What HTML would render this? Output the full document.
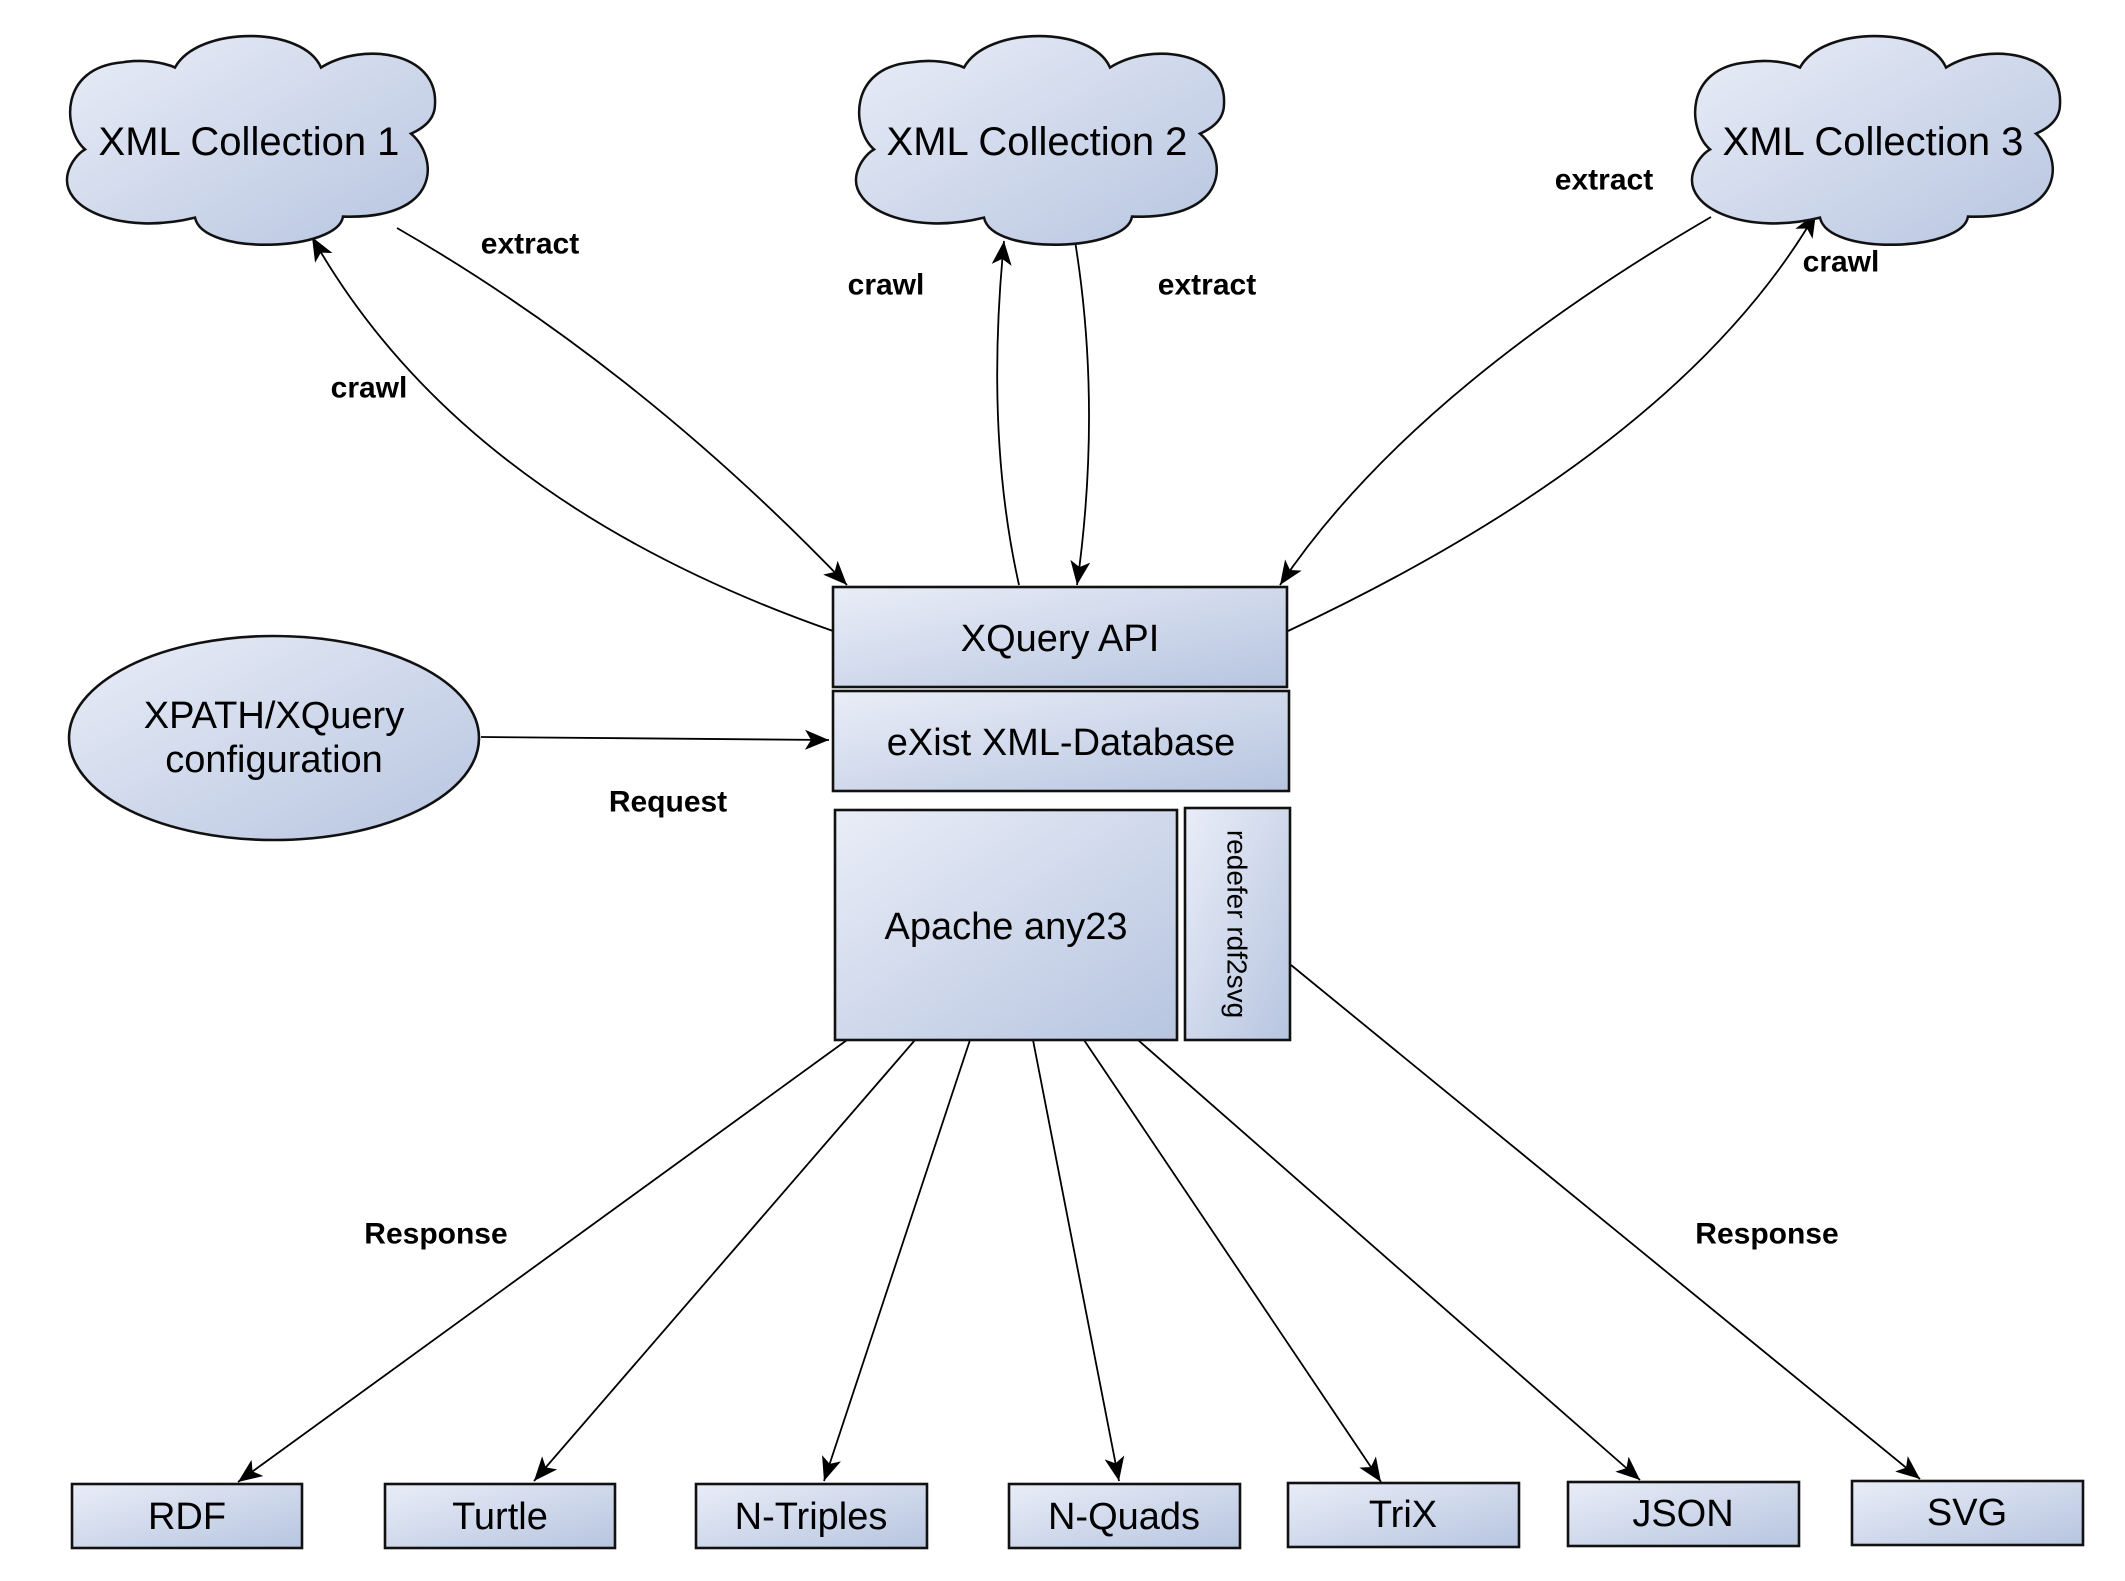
<!DOCTYPE html>
<html><head><meta charset="utf-8"><style>
html,body{margin:0;padding:0;background:#fff}
svg{display:block}
text{font-family:"Liberation Sans",sans-serif}
.n{font-size:38px;text-anchor:middle;dominant-baseline:central}
.cn{font-size:40px;text-anchor:middle;dominant-baseline:central}
.l{font-size:30px;font-weight:bold;text-anchor:middle;dominant-baseline:central}
.c{fill:none;stroke:#000;stroke-width:1.8}
.b{fill:url(#g);stroke:#111;stroke-width:2.6}
</style></head><body>
<svg width="2125" height="1581" viewBox="0 0 2125 1581" xmlns="http://www.w3.org/2000/svg">
<defs>
<linearGradient id="g" x1="0" y1="0" x2="1" y2="1"><stop offset="0" stop-color="#e9edf7"/><stop offset="1" stop-color="#b7c5e0"/></linearGradient>
<marker id="a" markerWidth="26" markerHeight="20" refX="24" refY="10" orient="auto" markerUnits="userSpaceOnUse"><path d="M0,0 L24,10 L0,20 L6,10 Z" fill="#000"/></marker>
<path id="cl" d="M112,30 C135,-10 240,-10 258,30 C300,5 375,15 372,65 C372,80 360,88 348,93 C375,115 380,175 280,172 C275,205 140,210 132,173 C60,190 -5,165 5,130 C8,120 15,112 22,108 C0,90 -5,30 60,25 C80,22 100,25 112,30 Z"/>
</defs>
<path class="c" d="M833,631 Q461,501 312,237" marker-end="url(#a)"/>
<path class="c" d="M397,228 Q637,366 847,585" marker-end="url(#a)"/>
<path class="c" d="M1019,585 Q985,434 1004,241" marker-end="url(#a)"/>
<path class="c" d="M1075,241 Q1102,407 1077,585" marker-end="url(#a)"/>
<path class="c" d="M1711,217 Q1409,393 1280,585" marker-end="url(#a)"/>
<path class="c" d="M1288,631 Q1680,447 1816,213" marker-end="url(#a)"/>
<path class="c" d="M481,737 L829,740" marker-end="url(#a)"/>
<path class="c" d="M847,1040 L238,1482" marker-end="url(#a)"/>
<path class="c" d="M915,1040 L534,1481" marker-end="url(#a)"/>
<path class="c" d="M970,1040 L824,1481" marker-end="url(#a)"/>
<path class="c" d="M1033,1040 L1119,1481" marker-end="url(#a)"/>
<path class="c" d="M1084,1040 L1381,1482" marker-end="url(#a)"/>
<path class="c" d="M1138,1040 L1640,1480" marker-end="url(#a)"/>
<path class="c" d="M1291,965 L1920,1479" marker-end="url(#a)"/>
<g transform="translate(63,36) scale(1,1.05)"><use href="#cl" class="b" style="stroke-width:2.5"/></g>
<g transform="translate(852,36) scale(1,1.05)"><use href="#cl" class="b" style="stroke-width:2.5"/></g>
<g transform="translate(1688,36) scale(1,1.05)"><use href="#cl" class="b" style="stroke-width:2.5"/></g>
<text class="cn" x="249" y="142">XML Collection 1</text>
<text class="cn" x="1037" y="142">XML Collection 2</text>
<text class="cn" x="1873" y="142">XML Collection 3</text>
<ellipse cx="274" cy="738" rx="205" ry="102" class="b"/>
<text class="n" x="274" y="716">XPATH/XQuery</text>
<text class="n" x="274" y="760">configuration</text>
<rect x="833" y="587" width="454" height="100" class="b"/>
<text class="n" x="1060" y="639">XQuery API</text>
<rect x="833" y="691" width="456" height="100" class="b"/>
<text class="n" x="1061" y="743">eXist XML-Database</text>
<rect x="835" y="810" width="342" height="230" class="b"/>
<text class="n" x="1006" y="927">Apache any23</text>
<rect x="1185" y="808" width="105" height="232" class="b"/>
<text class="n" style="font-size:28px" transform="translate(1237,924) rotate(90)">redefer rdf2svg</text>
<rect x="72" y="1484" width="230" height="64" class="b"/><text class="n" x="187" y="1517">RDF</text>
<rect x="385" y="1484" width="230" height="64" class="b"/><text class="n" x="500" y="1517">Turtle</text>
<rect x="696" y="1484" width="231" height="64" class="b"/><text class="n" x="811" y="1517">N-Triples</text>
<rect x="1009" y="1484" width="231" height="64" class="b"/><text class="n" x="1124" y="1517">N-Quads</text>
<rect x="1288" y="1483" width="231" height="64" class="b"/><text class="n" x="1403" y="1515">TriX</text>
<rect x="1568" y="1482" width="231" height="64" class="b"/><text class="n" x="1683" y="1514">JSON</text>
<rect x="1852" y="1481" width="231" height="64" class="b"/><text class="n" x="1967" y="1513">SVG</text>
<text class="l" x="530" y="244">extract</text>
<text class="l" x="369" y="388">crawl</text>
<text class="l" x="886" y="285">crawl</text>
<text class="l" x="1207" y="285">extract</text>
<text class="l" x="1604" y="180">extract</text>
<text class="l" x="1841" y="262">crawl</text>
<text class="l" x="668" y="802">Request</text>
<text class="l" x="436" y="1234">Response</text>
<text class="l" x="1767" y="1234">Response</text>
</svg>
</body></html>
